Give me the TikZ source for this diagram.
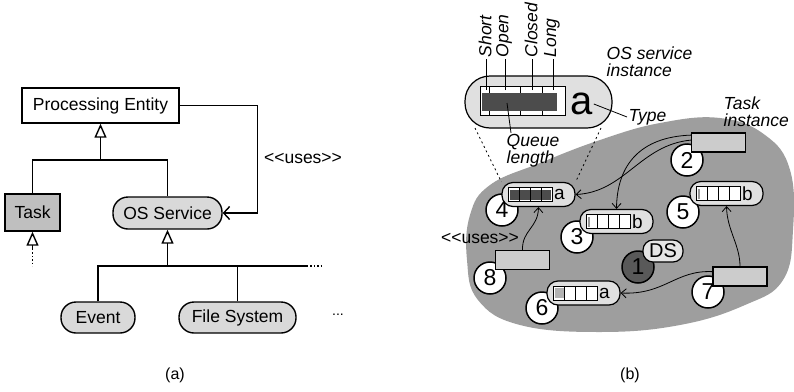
\documentclass[tikz,border=0pt]{standalone}
\usepackage{fontspec}
\setmainfont{Liberation Sans}
\usetikzlibrary{arrows.meta}

\newcommand{\usesmark}{<\kern0pt<uses>\kern0pt>}

\begin{document}
\begin{tikzpicture}[
    x=1pt, y=-1pt,
    font=\fontsize{17.5}{19}\selectfont, line width=1.4pt,
    cls/.style={draw,fill=white,minimum height=35pt,inner sep=2pt},
    svc/.style={draw,fill=black!15,rounded corners=15pt,minimum height=32pt,inner sep=2pt},
    gen/.style={-{Triangle[open,length=14pt,width=12pt]}},
    uses/.style={-{Straight Barb[length=6pt,width=13pt]}},
    blob/.style={fill=black!38},
    inst/.style={draw,fill=black!12,line width=1.2pt,rounded corners=11pt,minimum width=73pt,minimum height=24pt},
    num/.style={draw,circle,fill=white,line width=1.5pt,minimum size=32pt,inner sep=0pt,font=\fontsize{23}{23}\selectfont},
    tbox/.style={draw,fill=black!20,line width=1.2pt,minimum width=54pt,minimum height=19pt},
    flow/.style={-{Straight Barb[length=5pt,width=9pt]},line width=0.8pt},
    note/.style={font=\fontsize{17.5}{17}\selectfont\itshape,align=left,inner sep=1pt},
    zoomline/.style={line width=0.8pt,dash pattern=on 2pt off 3pt}
]
\useasboundingbox (0,0) rectangle (794,391);

% (a) class view
\node[cls,minimum width=157pt] (pe) at (100.5,105.5) {Processing Entity};
\node[cls,fill=black!25,minimum width=55pt,minimum height=37pt] (task) at (32.5,212.5) {Task};
\node[svc,minimum width=109pt] (os) at (167.5,213) {OS Service};
\node[svc,minimum width=74pt,minimum height=31pt] (ev) at (98,317.5) {Event};
\node[svc,minimum width=117pt,minimum height=31pt] (fs) at (237.5,317.5) {File System};
\node (more) at (338,315) {\fontsize{14}{14}\selectfont...};
\coordinate (ja) at (100.5,160);
\draw (task.north) |- (ja) -| (os.north);
\draw[gen] (ja) -- (pe.south);
\coordinate (jb) at (167.5,266);
\coordinate (jc) at (307,266);
\coordinate (jd) at (323,266);
\draw (ev.north) |- (jb) -- (jc);
\draw (fs.north) -- (fs.north |- jb);
\draw[gen] (jb) -- (os.south);
\draw[dotted] (jc) -- (jd);
\coordinate (te) at (32.5,249);
\coordinate (tf) at (32.5,266);
\draw[gen] (te) -- (task.south);
\draw[dotted] (te) -- (tf);
\draw[uses] (pe.east) -- ++(78,0) |- (os.east);
\node (lbluses) at (303,158) {\usesmark};
\node[font=\fontsize{16}{16}\selectfont] (capa) at (175,375) {(a)};

% (b) instance view
\fill[blob] plot[smooth cycle,tension=0.7] coordinates {(470,215) (490,185) (540,163) (600,140)
    (660,123) (720,118) (765,135) (790,170) (793,230) (783,280) (745,305) (680,325)
    (600,332) (520,325) (478,300) (467,260)};
\foreach \n/\x/\y in {4/502/210, 3/577/237, 5/683/212, 6/542/308, 8/490/278, 2/687/160, 7/708/292}
    \node[num] (c\n) at (\x,\y) {\n};
\node[num,fill=black!65] (c1) at (638,267) {1};
\foreach \n/\x/\y in {4/538.5/194.5, 3/616.5/221.5, 5/726.5/193.5, 6/583.5/293}
    \node[inst] (s\n) at (\x,\y) {};
\foreach \n/\t/\w/\c in {4/a/12/black!70, 3/b/-27/black!40, 5/b/-27/black!40, 6/a/-20/black!30} {
    \begin{scope}[shift={(s\n.center)}]
        \draw[fill=white,line width=0.8pt] (-30,-7) rectangle (14,7);
        \fill[\c] (-29,-5) rectangle (\w,5);
        \foreach \d in {-19,-8,3}
            \draw[line width=0.8pt] (\d,-7) -- (\d,7);
        \node[font=\fontsize{19}{19}\selectfont,inner sep=0pt] (s\n t) at (21,0) {\t};
    \end{scope}
}
\node[tbox] (t2) at (718.5,142.5) {};
\node[tbox] (t8) at (522.5,260) {};
\node[tbox] (t7) at (740,276.5) {};
\node[draw,fill=black!10,line width=1.2pt,rounded corners=10pt,minimum width=40pt,minimum height=22pt,
    inner sep=1pt,font=\fontsize{20}{20}\selectfont] (ds) at (663,251) {DS};
\node (lbluses2) at (480,238) {\usesmark};
\draw[flow] (t2.165) .. controls (640,137) and (617,165) .. (s3.north);
\draw[flow] (t2.175) .. controls (640,145) and (625,192) .. (s4.east);
\draw[flow] (t8.north) .. controls (522,230) and (538,228) .. (s4.south);
\draw[flow] (t7.north) .. controls (740,245) and (727,230) .. (s5.south);
\draw[flow] (t7.170) .. controls (675,270) and (665,295) .. (s6.east);
\node[note,anchor=west] (ltask) at (722,112) {Task\\instance};

% zoomed OS service instance
\node[inst,minimum width=147pt,minimum height=52pt,rounded corners=25pt] (big) at (538.5,102) {};
\draw[fill=white,line width=0.8pt] (480,86) rectangle (565,115);
\fill[black!70] (482,93) rectangle (557,111);
\foreach \x in {489,520,542} {
    \draw[line width=0.8pt] (\x,86) -- (\x,93);
    \draw[line width=0.8pt] (\x,111) -- (\x,115);
}
\foreach \x/\lbl in {486/Short, 505/Open, 532/Closed, 553/Long} {
    \node[note,rotate=90,anchor=west] (l\lbl) at (\x-1,59) {\lbl};
    \coordinate (q\lbl) at (\x,90);
    \draw[line width=0.8pt] (q\lbl) -- (q\lbl |- l\lbl.west);
}
\node[font=\fontsize{40}{40}\selectfont,inner sep=0pt] (biga) at (582,104) {a};
\node[note,anchor=west] (ltype) at (627,117) {Type};
\draw[line width=0.8pt] (biga.east) -- (ltype.west);
\node[note,anchor=west] (linst) at (605,62) {OS service\\instance};
\node[note,anchor=west] (lqueue) at (505,151) {Queue\\length};
\coordinate (qq) at (507,103);
\draw[line width=0.8pt] (qq) -- ([xshift=6pt]lqueue.north west);
\coordinate (za) at (475,128);
\coordinate (zb) at (601,128);
\draw[zoomline] (za) -- (s4.north west);
\draw[zoomline] (zb) -- (s4.north east);
\node[font=\fontsize{16}{16}\selectfont] (capb) at (630,375) {(b)};
\end{tikzpicture}
\end{document}
